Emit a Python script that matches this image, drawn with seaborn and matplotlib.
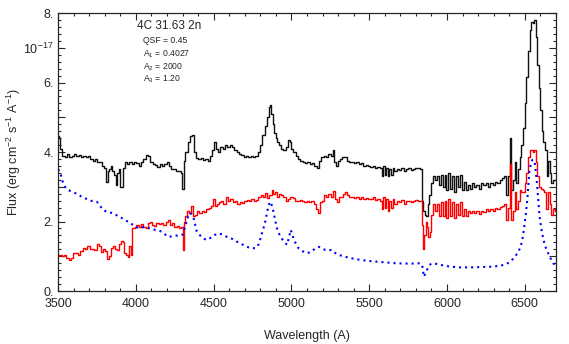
import matplotlib
matplotlib.use("Agg")
import matplotlib.pyplot as plt
import seaborn as sns
import pandas as pd
from matplotlib.ticker import MultipleLocator

# observed spectrum (black), units of 1e-17
obs_wave = [3500, 3510, 3520, 3535, 3550, 3565, 3580, 3595, 3610, 3625, 3640, 3655, 3670, 3685, 3700,
            3715, 3730, 3745, 3760, 3775, 3790, 3805, 3815, 3825, 3835, 3845, 3855, 3865, 3875, 3885,
            3895, 3905, 3915, 3925, 3935, 3950, 3965, 3980, 3995, 4010, 4025, 4040, 4055, 4070, 4085,
            4100, 4115, 4130, 4145, 4160, 4175, 4190, 4205, 4220, 4235, 4250, 4265, 4280, 4295, 4303,
            4312, 4325, 4340, 4355, 4368, 4380, 4395, 4410, 4425, 4440, 4455, 4470, 4485, 4500, 4510,
            4520, 4535, 4550, 4565, 4580, 4595, 4610, 4625, 4640, 4655, 4670, 4685, 4700, 4715, 4730,
            4745, 4760, 4775, 4790, 4805, 4820, 4835, 4848, 4858, 4866, 4875, 4885, 4895, 4905, 4915,
            4925, 4940, 4955, 4970, 4985, 4995, 5005, 5020, 5035, 5050, 5065, 5080, 5095, 5110, 5125,
            5140, 5155, 5170, 5185, 5200, 5215, 5230, 5245, 5260, 5270, 5280, 5293, 5305, 5320, 5335,
            5350, 5365, 5380, 5395, 5410, 5425, 5440, 5455, 5470, 5485, 5500, 5515, 5530, 5545, 5560,
            5575, 5585, 5595, 5605, 5615, 5625, 5635, 5645, 5655, 5670, 5685, 5700, 5715, 5730, 5745,
            5760, 5775, 5790, 5805, 5820, 5832, 5845, 5852, 5862, 5872, 5882, 5892, 5902, 5915, 5928,
            5940, 5952, 5965, 5978, 5990, 6002, 6015, 6028, 6040, 6052, 6065, 6078, 6090, 6102, 6115,
            6128, 6140, 6152, 6165, 6180, 6195, 6210, 6225, 6240, 6255, 6270, 6285, 6300, 6315, 6330,
            6345, 6360, 6375, 6387, 6398, 6408, 6418, 6428, 6440, 6452, 6462, 6473, 6484, 6494, 6505,
            6516, 6527, 6537, 6548, 6558, 6566, 6576, 6585, 6592, 6602, 6613, 6624, 6634, 6645, 6655,
            6665, 6672, 6685, 6700]
obs_flux = [4.45, 4.4, 4.1, 3.88, 3.85, 3.95, 3.85, 3.9, 3.95, 3.88, 3.92, 3.85, 3.9, 3.85, 3.88,
            3.8, 3.75, 3.8, 3.7, 3.72, 3.6, 3.55, 3.15, 3.45, 3.5, 3.6, 3.45, 3.35, 3.05, 3.4,
            3.5, 3.0, 3.0, 3.55, 3.7, 3.65, 3.7, 3.65, 3.7, 3.68, 3.6, 3.72, 3.8, 3.92, 3.88,
            3.7, 3.65, 3.62, 3.58, 3.65, 3.6, 3.65, 3.7, 3.6, 3.5, 3.5, 3.45, 3.45, 3.4, 2.95,
            3.75, 4.0, 4.3, 4.45, 4.5, 4.0, 3.82, 3.8, 3.82, 3.78, 3.8, 3.75, 3.9, 4.05, 4.3,
            4.1, 4.0, 4.15, 4.1, 4.2, 4.15, 4.2, 4.15, 4.05, 4.0, 3.95, 3.92, 3.85, 3.9, 3.85,
            3.88, 3.85, 3.9, 4.0, 4.2, 4.5, 4.75, 5.0, 5.3, 5.35, 5.1, 4.8, 4.55, 4.4, 4.3,
            4.2, 4.1, 4.05, 4.15, 4.35, 4.3, 4.1, 4.0, 3.9, 3.8, 3.75, 3.7, 3.68, 3.72, 3.65,
            3.68, 3.6, 3.55, 3.75, 3.85, 3.88, 3.85, 3.95, 3.9, 4.05, 3.7, 3.6, 3.75, 3.8, 3.85,
            3.85, 3.75, 3.72, 3.7, 3.68, 3.72, 3.65, 3.68, 3.6, 3.62, 3.6, 3.58, 3.6, 3.55, 3.58,
            3.55, 3.3, 3.6, 3.35, 3.55, 3.3, 3.5, 3.35, 3.55, 3.45, 3.5, 3.48, 3.55, 3.45, 3.5,
            3.55, 3.48, 3.5, 3.55, 3.55, 3.5, 2.6, 2.3, 2.2, 2.15, 2.5, 2.75, 3.1, 3.3, 3.2,
            3.3, 3.05, 3.35, 3.0, 3.35, 2.9, 3.4, 2.95, 3.3, 2.85, 3.3, 3.0, 3.35, 2.9, 3.15,
            2.9, 3.05, 2.95, 3.1, 3.0, 3.05, 2.95, 3.1, 3.05, 3.1, 3.0, 3.1, 3.05, 3.15, 3.1,
            3.2, 3.25, 3.3, 2.75, 3.3, 4.4, 2.9, 3.2, 3.7, 3.1, 3.5, 3.85, 4.2, 4.7, 5.4,
            6.15, 6.9, 7.5, 7.75, 7.7, 7.8, 7.3, 6.5, 5.85, 5.2, 4.6, 4.3, 4.05, 3.3, 3.75,
            3.4, 3.1, 3.2, 3.2]

# residual after subtracting the model (red)
res_wave = [3500, 3515, 3530, 3545, 3560, 3575, 3590, 3605, 3620, 3635, 3650, 3665, 3680, 3695, 3710,
            3725, 3740, 3755, 3770, 3782, 3795, 3810, 3822, 3835, 3848, 3860, 3872, 3885, 3898, 3910,
            3920, 3930, 3942, 3952, 3962, 3972, 3985, 3998, 4010, 4025, 4040, 4055, 4070, 4085, 4095,
            4110, 4125, 4140, 4155, 4170, 4185, 4200, 4215, 4228, 4240, 4255, 4270, 4285, 4297, 4304,
            4312, 4325, 4338, 4350, 4360, 4372, 4385, 4400, 4415, 4430, 4445, 4460, 4475, 4490, 4500,
            4512, 4525, 4540, 4555, 4570, 4585, 4600, 4615, 4630, 4645, 4660, 4675, 4690, 4705, 4720,
            4735, 4750, 4765, 4780, 4795, 4810, 4825, 4838, 4852, 4866, 4878, 4890, 4900, 4912, 4925,
            4940, 4955, 4970, 4985, 5000, 5015, 5030, 5045, 5060, 5075, 5090, 5105, 5120, 5135, 5150,
            5165, 5175, 5188, 5200, 5215, 5230, 5245, 5258, 5272, 5285, 5298, 5310, 5325, 5340, 5352,
            5365, 5380, 5395, 5410, 5425, 5440, 5455, 5470, 5485, 5500, 5515, 5530, 5545, 5560, 5575,
            5585, 5595, 5605, 5615, 5625, 5635, 5645, 5655, 5670, 5685, 5700, 5715, 5730, 5745, 5760,
            5775, 5790, 5805, 5820, 5832, 5842, 5850, 5858, 5866, 5875, 5884, 5893, 5902, 5915, 5928,
            5940, 5952, 5965, 5978, 5990, 6002, 6015, 6028, 6040, 6052, 6065, 6078, 6090, 6102, 6115,
            6128, 6140, 6152, 6165, 6180, 6195, 6210, 6225, 6240, 6255, 6270, 6285, 6300, 6315, 6330,
            6345, 6360, 6375, 6387, 6398, 6408, 6418, 6428, 6440, 6452, 6462, 6473, 6484, 6494, 6505,
            6516, 6527, 6537, 6548, 6558, 6566, 6576, 6585, 6595, 6608, 6620, 6632, 6645, 6655, 6665,
            6672, 6685, 6700]
res_flux = [1.0, 1.05, 1.0, 1.05, 0.95, 0.9, 0.95, 1.1, 1.1, 1.05, 1.15, 1.25, 1.2, 1.3, 1.2,
            1.22, 1.18, 1.35, 1.3, 1.12, 1.2, 1.15, 0.92, 1.0, 1.25, 1.3, 1.2, 1.18, 1.35, 1.45,
            1.4, 1.1, 1.05, 0.98, 1.3, 1.03, 1.8, 1.85, 1.9, 1.85, 1.92, 1.85, 1.8, 1.95, 2.0,
            1.9, 1.88, 1.95, 1.92, 1.95, 1.9, 1.98, 2.05, 1.9, 1.95, 1.85, 1.88, 1.82, 1.85, 1.18,
            2.0, 2.15, 2.3, 2.25, 2.45, 2.15, 2.2, 2.3, 2.25, 2.3, 2.28, 2.35, 2.4, 2.45, 2.65,
            2.45, 2.5, 2.55, 2.6, 2.5, 2.7, 2.6, 2.65, 2.55, 2.6, 2.5, 2.55, 2.52, 2.6, 2.62,
            2.58, 2.65, 2.6, 2.62, 2.7, 2.75, 2.7, 2.82, 2.68, 2.75, 2.9, 2.8, 2.85, 2.72, 2.78,
            2.75, 2.7, 2.6, 2.65, 2.72, 2.68, 2.6, 2.58, 2.62, 2.58, 2.55, 2.6, 2.55, 2.58, 2.5,
            2.35, 2.25, 2.55, 2.6, 2.75, 2.7, 2.78, 2.7, 2.88, 2.65, 2.55, 2.7, 2.72, 2.8, 2.85,
            2.75, 2.7, 2.72, 2.68, 2.7, 2.65, 2.7, 2.66, 2.68, 2.66, 2.65, 2.7, 2.62, 2.65, 2.6,
            2.35, 2.7, 2.4, 2.65, 2.3, 2.6, 2.4, 2.65, 2.5, 2.6, 2.55, 2.62, 2.5, 2.58, 2.6,
            2.55, 2.58, 2.62, 2.6, 2.6, 1.9, 1.2, 1.6, 2.0, 1.85, 1.55, 1.7, 2.2, 2.5, 2.3,
            2.5, 2.15, 2.55, 2.15, 2.6, 2.1, 2.65, 2.15, 2.55, 2.1, 2.5, 2.2, 2.55, 2.15, 2.35,
            2.15, 2.3, 2.25, 2.3, 2.25, 2.3, 2.22, 2.3, 2.28, 2.35, 2.3, 2.35, 2.3, 2.4, 2.35,
            2.42, 2.45, 2.5, 2.05, 2.4, 3.65, 2.05, 2.3, 2.85, 2.35, 2.6, 2.9, 2.85, 2.85, 3.1,
            3.4, 3.85, 4.05, 4.05, 4.0, 4.05, 3.7, 3.3, 3.0, 2.95, 2.9, 2.85, 2.35, 2.85, 2.5,
            2.2, 2.35, 2.3]

# quasar model (blue dotted)
qso_wave = [3500, 3513, 3530, 3545, 3560, 3588, 3620, 3650, 3674, 3710, 3749, 3770, 3790, 3820, 3856,
            3880, 3910, 3940, 3963, 3990, 4017, 4040, 4060, 4090, 4124, 4167, 4190, 4210, 4240, 4272,
            4300, 4317, 4333, 4345, 4358, 4371, 4392, 4408, 4424, 4440, 4457, 4480, 4500, 4532, 4560,
            4585, 4620, 4650, 4685, 4714, 4740, 4767, 4785, 4800, 4820, 4832, 4845, 4853, 4864, 4875,
            4885, 4895, 4907, 4925, 4940, 4956, 4972, 4985, 4995, 5005, 5014, 5030, 5046, 5070, 5100,
            5125, 5154, 5180, 5200, 5218, 5260, 5280, 5303, 5335, 5368, 5410, 5455, 5510, 5561, 5620,
            5669, 5720, 5776, 5830, 5842, 5851, 5866, 5880, 5894, 5915, 5960, 6022, 6085, 6150, 6215,
            6280, 6330, 6365, 6400, 6430, 6455, 6473, 6485, 6494, 6505, 6516, 6524, 6530, 6540, 6548,
            6556, 6563, 6572, 6580, 6588, 6595, 6608, 6620, 6637, 6655, 6670, 6683, 6700]
qso_flux = [3.5, 3.43, 3.15, 3.0, 2.92, 2.86, 2.8, 2.72, 2.67, 2.6, 2.57, 2.45, 2.33, 2.27, 2.24,
            2.17, 2.1, 2.02, 1.96, 1.88, 1.81, 1.83, 1.85, 1.8, 1.76, 1.71, 1.62, 1.56, 1.58, 1.6,
            1.62, 1.85, 2.1, 2.24, 2.22, 2.1, 1.71, 1.62, 1.56, 1.5, 1.47, 1.53, 1.6, 1.66, 1.62,
            1.56, 1.5, 1.42, 1.34, 1.27, 1.24, 1.23, 1.3, 1.5, 1.8, 2.0, 2.3, 2.47, 2.57, 2.45,
            2.28, 2.05, 1.81, 1.6, 1.5, 1.4, 1.33, 1.55, 1.76, 1.65, 1.5, 1.35, 1.23, 1.15, 1.09,
            1.12, 1.23, 1.27, 1.22, 1.18, 1.18, 1.1, 1.04, 1.0, 0.96, 0.92, 0.89, 0.86, 0.84, 0.82,
            0.8, 0.79, 0.79, 0.8, 0.7, 0.41, 0.55, 0.7, 0.77, 0.8, 0.75, 0.7, 0.68, 0.68, 0.69,
            0.7, 0.72, 0.75, 0.82, 0.95, 1.1, 1.27, 1.5, 1.76, 2.15, 2.62, 3.1, 3.48, 3.68, 3.77,
            3.78, 3.72, 3.4, 3.0, 2.55, 2.14, 1.75, 1.47, 1.22, 1.04, 0.9, 0.8, 0.72]

title = "4C 31.63 2n"
fit_params = ["QSF = 0.45", "A$_1$ = 0.4027", "A$_2$ = 2000", "A$_3$ = 1.20"]
ytick_labels = ["0.", "", "2.", "", "4.", "", "6.", "10$^{-17}$", "8."]

sns.set_style("ticks")
plt.rcParams["font.family"] = ["Liberation Sans", "DejaVu Sans"]
plt.rcParams["mathtext.fontset"] = "custom"
plt.rcParams["mathtext.rm"] = "Liberation Sans"
plt.rcParams["mathtext.it"] = "Liberation Sans"

fig = plt.figure(figsize=(5.69, 3.44), dpi=100)
ax = fig.add_axes([0.102, 0.154, 0.875, 0.808])

obs = pd.DataFrame({"wave": obs_wave, "flux": obs_flux})
res = pd.DataFrame({"wave": res_wave, "flux": res_flux})
qso = pd.DataFrame({"wave": qso_wave, "flux": qso_flux})

sns.lineplot(data=obs, x="wave", y="flux", color="#111111", lw=1.0,
             drawstyle="steps-mid", estimator=None, ax=ax)
sns.lineplot(data=res, x="wave", y="flux", color="#ff0000", lw=1.0,
             drawstyle="steps-mid", estimator=None, ax=ax)
sns.lineplot(data=qso, x="wave", y="flux", color="#0000ff", lw=1.5,
             estimator=None, ax=ax)
ax.lines[-1].set_dashes([1, 1.9])

ax.set_xlim(3500, 6700)
ax.set_ylim(0, 8)
ax.xaxis.set_major_locator(MultipleLocator(500))
ax.xaxis.set_minor_locator(MultipleLocator(100))
ax.set_yticks(range(0, 9))
ax.set_yticklabels(ytick_labels)
ax.yaxis.set_minor_locator(MultipleLocator(0.2))
ax.tick_params(which="both", direction="in", top=True, right=True, labelsize=9, width=0.8)
ax.tick_params(which="major", length=5)
ax.tick_params(which="minor", length=2.5)
ax.tick_params(axis="x", which="major", pad=5)
ax.tick_params(axis="y", which="major", pad=3)
for s in ax.spines.values():
    s.set_linewidth(0.9)

ax.set_xlabel("Wavelength (A)", fontsize=9)
ax.xaxis.set_label_coords(0.5, -0.14)
ax.set_ylabel("Flux (erg cm$^{-2}$ s$^{-1}$ A$^{-1}$)", fontsize=9)
ax.yaxis.set_label_coords(-0.07, 0.5)

ax.text(0.159, 0.955, title, transform=ax.transAxes, fontsize=8.5, va="center", ha="left")
for i, p in enumerate(fit_params):
    ax.text(0.171, 0.9 - i * 0.046, p, transform=ax.transAxes, fontsize=6.2, va="center", ha="left")

fig.savefig("out.png", dpi=100)
